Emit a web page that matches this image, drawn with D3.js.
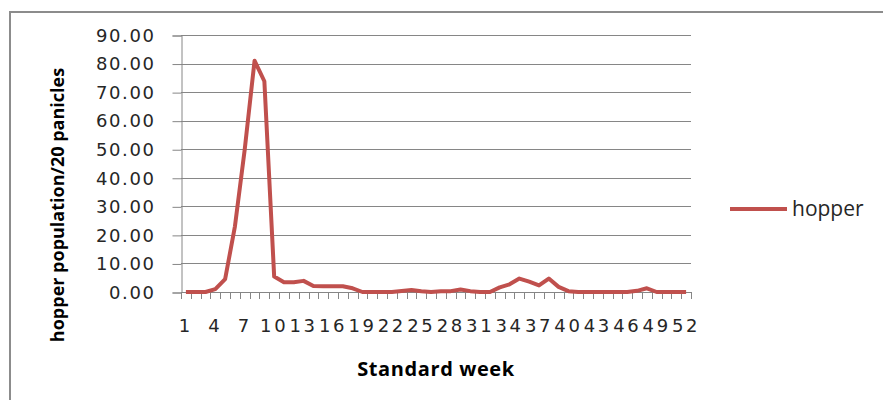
<!DOCTYPE html>
<html>
<head>
<meta charset="utf-8">
<script src="https://cdn.jsdelivr.net/npm/d3@7"></script>
<style>
  body { margin: 0; background: #fff; }
  svg { display: block; }
</style>
</head>
<body>
<svg id="chart" width="883" height="400"></svg>
<script>
// standard weeks 1..52
var weeks = d3.range(1, 53);

// hopper population / 20 panicles
var hopper = [
  0, 0, 0, 1.0, 4.5, 23, 50, 81, 73.8, 5.4,
  3.4, 3.4, 3.9, 2.1, 2.0, 2.0, 2.0, 1.3, 0, 0,
  0, 0, 0.35, 0.7, 0.3, 0, 0.3, 0.3, 0.9, 0.3,
  0, 0, 1.6, 2.7, 4.7, 3.6, 2.3, 4.7, 1.8, 0.3,
  0, 0, 0, 0, 0, 0, 0.4, 1.3, 0, 0,
  0, 0
];

var yTicks = [0, 10, 20, 30, 40, 50, 60, 70, 80, 90];
var seriesName = 'hopper';
var yTitle = 'hopper population/20 panicles';
var xTitle = 'Standard week';

var plot = { left: 181, right: 691, top: 35, bottom: 292 };
var lineColor = '#C0504D';
var gridColor = '#868686';

var svg = d3.select('#chart');

// outer chart border (left + top only visible)
svg.append('path')
  .attr('d', 'M10,400 L10,12 L883,12')
  .attr('fill', 'none')
  .attr('stroke', '#8c8c8c')
  .attr('stroke-width', 2);

var x = d3.scaleBand()
  .domain(weeks)
  .range([plot.left, plot.right]);

var y = d3.scaleLinear()
  .domain([0, 90])
  .range([plot.bottom, plot.top]);

// horizontal gridlines
svg.append('g')
  .selectAll('line')
  .data(yTicks)
  .join('line')
  .attr('x1', plot.left)
  .attr('x2', plot.right)
  .attr('y1', function (d) { return Math.round(y(d)) + 0.5; })
  .attr('y2', function (d) { return Math.round(y(d)) + 0.5; })
  .attr('stroke', gridColor)
  .attr('stroke-width', 1);

// y axis
var yAxis = svg.append('g')
  .attr('transform', 'translate(' + (plot.left + 0.5) + ',0.5)')
  .call(d3.axisLeft(y)
    .tickValues(yTicks)
    .tickSize(9)
    .tickPadding(17)
    .tickFormat(d3.format('.2f')));

yAxis.select('.domain').attr('stroke', gridColor);
yAxis.selectAll('.tick line').attr('stroke', gridColor);
yAxis.selectAll('.tick text')
  .attr('fill', '#262626')
  .style('font-family', '"DejaVu Sans", sans-serif')
  .style('font-size', '18px')
  .style('letter-spacing', '1.6px');

// x axis: line, ticks at category edges, labels every 3rd week
var xAxis = svg.append('g');

xAxis.append('line')
  .attr('x1', plot.left)
  .attr('x2', plot.right)
  .attr('y1', plot.bottom + 0.5)
  .attr('y2', plot.bottom + 0.5)
  .attr('stroke', gridColor);

var edges = weeks.map(function (w) { return x(w); }).concat([plot.right]);

xAxis.selectAll('line.tick')
  .data(edges)
  .join('line')
  .attr('class', 'tick')
  .attr('x1', function (d) { return Math.round(d) + 0.5; })
  .attr('x2', function (d) { return Math.round(d) + 0.5; })
  .attr('y1', plot.bottom)
  .attr('y2', plot.bottom + 7)
  .attr('stroke', gridColor);

xAxis.selectAll('text')
  .data(weeks.filter(function (w) { return (w - 1) % 3 === 0; }))
  .join('text')
  .attr('x', function (d) { return x(d) + x.bandwidth() / 2; })
  .attr('y', 332)
  .attr('text-anchor', 'middle')
  .attr('fill', '#262626')
  .style('font-family', '"DejaVu Sans", sans-serif')
  .style('font-size', '18px')
  .style('letter-spacing', '2.6px')
  .text(function (d) { return d; });

// series line
var line = d3.line()
  .x(function (d, i) { return x(weeks[i]) + x.bandwidth() / 2; })
  .y(function (d) { return y(d); });

svg.append('path')
  .datum(hopper)
  .attr('d', line)
  .attr('fill', 'none')
  .attr('stroke', lineColor)
  .attr('stroke-width', 4)
  .attr('stroke-linejoin', 'round');

// axis titles
svg.append('text')
  .attr('transform', 'translate(64,' + 205 + ') rotate(-90)')
  .attr('text-anchor', 'middle')
  .attr('fill', '#000')
  .style('font-family', '"Open Sans", sans-serif')
  .style('font-weight', 'bold')
  .style('font-size', '18px')
  .text(yTitle);

svg.append('text')
  .attr('x', 436)
  .attr('y', 376)
  .attr('text-anchor', 'middle')
  .attr('fill', '#000')
  .style('font-family', '"Open Sans", sans-serif')
  .style('font-weight', 'bold')
  .style('font-size', '20px')
  .style('letter-spacing', '0.6px')
  .text(xTitle);

// legend
var legend = svg.append('g').attr('transform', 'translate(730,209)');
legend.append('line')
  .attr('x1', 0).attr('x2', 57)
  .attr('y1', 0).attr('y2', 0)
  .attr('stroke', lineColor)
  .attr('stroke-width', 4);
legend.append('text')
  .attr('x', 62)
  .attr('y', 7)
  .attr('fill', '#262626')
  .style('font-family', '"Open Sans", sans-serif')
  .style('font-size', '21px')
  .text(seriesName);
</script>
</body>
</html>
